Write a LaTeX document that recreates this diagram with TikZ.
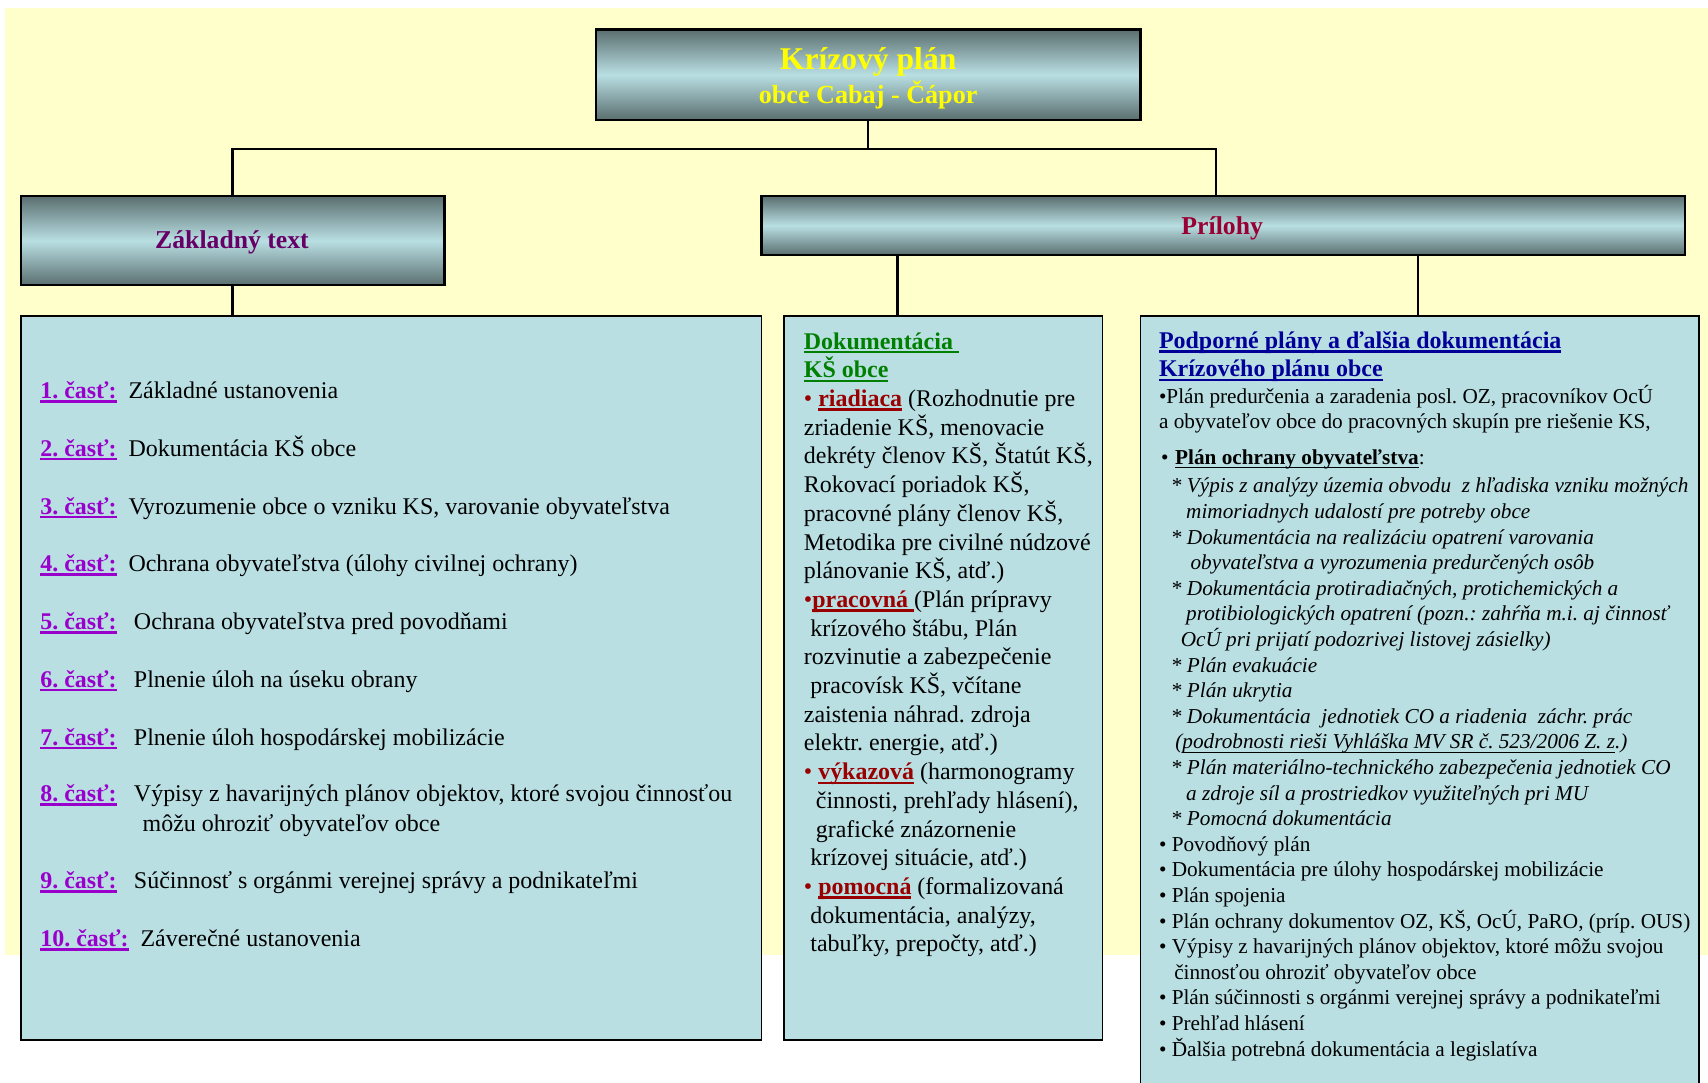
\documentclass[tikz,border=0pt]{standalone}
\usepackage{fontspec}
\setmainfont{Liberation Serif}
\frenchspacing
\newsavebox\ulbox
\newcommand\myul[2][2pt]{\sbox\ulbox{#2}\rlap{\rule[-0.17em]{\wd\ulbox}{#1}}\usebox\ulbox}
\definecolor{bgy}{HTML}{FFFFCC}
\definecolor{boxb}{HTML}{B9DFE3}
\definecolor{hdrd}{HTML}{5A6E6F}
\definecolor{hdrl}{HTML}{B9DFE3}
\definecolor{ttly}{HTML}{FFFF00}
\definecolor{zaklc}{HTML}{660066}
\definecolor{prilc}{HTML}{990033}
\definecolor{castc}{HTML}{9900CC}
\definecolor{grn}{HTML}{008000}
\definecolor{dred}{HTML}{990000}
\definecolor{hblue}{HTML}{000099}
\newcommand\castlbl[2]{\makebox[#1][l]{\textcolor{castc}{\bfseries\myul[2.4pt]{#2}}}}
\newcommand\redbul{\textcolor{dred}{•}}
\newcommand\redkw[1]{\textcolor{dred}{\bfseries\myul{#1}}}
\tikzset{
  hdr/.style={draw=black, line width=2pt, top color=hdrd, bottom color=hdrd, middle color=hdrl, inner sep=0pt, outer sep=0pt},
  cbox/.style={draw=black, line width=1.5pt, fill=boxb, inner sep=0pt, outer sep=0pt},
  conn/.style={draw=black, line width=2pt},
  ln/.style={anchor=base west, inner sep=0pt, outer sep=0pt},
  lt/.style={ln, font=\fontsize{22}{26}\selectfont},
  mt/.style={ln, font=\fontsize{22}{26}\selectfont},
  rt/.style={ln, font=\fontsize{19.5}{23}\selectfont},
  ri/.style={ln, font=\fontsize{19.5}{23}\selectfont\itshape},
}
\begin{document}
\begin{tikzpicture}[x=1pt,y=-1pt]
\useasboundingbox (0,0) rectangle (1568,994);
\fill[white] (0,0) rectangle (1568,994);
\fill[bgy] (4.6,7.3) rectangle (1568,877);

% boxes
\node[hdr, minimum width=500pt, minimum height=83pt] (top) at (797,68.5) {};
\node[hdr, minimum width=389pt, minimum height=82pt] (lh) at (213.5,221) {};
\node[hdr, minimum width=848pt, minimum height=54pt] (pr) at (1123,207) {};
\node[cbox, minimum width=680pt, minimum height=665pt] (lc) at (359,622.5) {};
\node[cbox, minimum width=292pt, minimum height=665pt] (mc) at (866,622.5) {};
\node[fill=boxb, inner sep=0pt, outer sep=0pt, minimum width=513pt, minimum height=704pt] (rb) at (1303.5,642) {};
\draw[black, line width=1.5pt] (rb.south west) -- (rb.north west) -- (rb.north east) -- (rb.south east);

% connectors
\coordinate (jn) at (797,137);
\coordinate (prx) at (1116,0);
\coordinate (mx) at (824,0);
\coordinate (rx) at (1302,0);
\draw[conn] (top.south) -- (jn);
\draw[conn] (jn) -| (lh.north);
\draw[conn] (jn) -| (pr.north -| prx);
\draw[conn] (lh.south) -- (lh.south |- lc.north);
\draw[conn] (pr.south -| mx) -- (mc.north -| mx);
\draw[conn] (pr.south -| rx) -- (rb.north -| rx);

% titles
\node[anchor=base, inner sep=0pt, font=\fontsize{29}{33}\selectfont\bfseries, text=ttly] (t1) at (797,64) {Krízový plán};
\node[anchor=base, inner sep=0pt, font=\fontsize{24}{28}\selectfont\bfseries, text=ttly] (t2) at (797,95) {obce Cabaj - Čápor};
\node[anchor=base, inner sep=0pt, font=\fontsize{23.6}{27}\selectfont\bfseries, text=zaklc] (t3) at (213,228) {Základný text};
\node[anchor=base, inner sep=0pt, font=\fontsize{23.6}{27}\selectfont\bfseries, text=prilc] (t4) at (1122,215) {Prílohy};

% left box
\node[lt] (c1) at (37,366) {\castlbl{81pt}{1. časť:}Základné ustanovenia};
\node[lt] (c2) at (37,419) {\castlbl{81pt}{2. časť:}Dokumentácia KŠ obce};
\node[lt] (c3) at (37,472) {\castlbl{81pt}{3. časť:}Vyrozumenie obce o vzniku KS, varovanie obyvateľstva};
\node[lt] (c4) at (37,525) {\castlbl{81pt}{4. časť:}Ochrana obyvateľstva (úlohy civilnej ochrany)};
\node[lt] (c5) at (37,578) {\castlbl{86pt}{5. časť:}Ochrana obyvateľstva pred povodňami};
\node[lt] (c6) at (37,631) {\castlbl{86pt}{6. časť:}Plnenie úloh na úseku obrany};
\node[lt] (c7) at (37,684) {\castlbl{86pt}{7. časť:}Plnenie úloh hospodárskej mobilizácie};
\node[lt] (c8) at (37,736) {\castlbl{86pt}{8. časť:}Výpisy z havarijných plánov objektov, ktoré svojou činnosťou};
\node[lt] (c8b) at (131,763) {môžu ohroziť obyvateľov obce};
\node[lt] (c9) at (37,816) {\castlbl{86pt}{9. časť:}Súčinnosť s orgánmi verejnej správy a podnikateľmi};
\node[lt] (c10) at (37,869) {\castlbl{92pt}{10. časť:}Záverečné ustanovenia};

% middle box
\node[mt] (m0) at (738,320.5) {\textcolor{grn}{\bfseries\myul{Dokumentácia\ }}};
\node[mt] (m1) at (738,346.85) {\textcolor{grn}{\bfseries\myul{KŠ obce}}};
\node[mt] (m2) at (738,373.2) {\redbul{} \redkw{riadiaca} (Rozhodnutie pre};
\node[mt] (m3) at (738,399.55) {zriadenie KŠ, menovacie};
\node[mt] (m4) at (738,425.9) {dekréty členov KŠ, Štatút KŠ,};
\node[mt] (m5) at (738,452.25) {Rokovací poriadok KŠ,};
\node[mt] (m6) at (738,478.6) {pracovné plány členov KŠ,};
\node[mt] (m7) at (738,504.95) {Metodika pre civilné núdzové};
\node[mt] (m8) at (738,531.3) {plánovanie KŠ, atď.)};
\node[mt] (m9) at (738,557.65) {\redbul\redkw{pracovná\ }(Plán prípravy};
\node[mt] (m10) at (744,584.0) {krízového štábu, Plán};
\node[mt] (m11) at (738,610.35) {rozvinutie a zabezpečenie};
\node[mt] (m12) at (744,636.7) {pracovísk KŠ, včítane};
\node[mt] (m13) at (738,663.05) {zaistenia náhrad. zdroja};
\node[mt] (m14) at (738,689.4) {elektr. energie, atď.)};
\node[mt] (m15) at (738,715.75) {\redbul{} \redkw{výkazová} (harmonogramy};
\node[mt] (m16) at (749,742.1) {činnosti, prehľady hlásení),};
\node[mt] (m17) at (749,768.45) {grafické znázornenie};
\node[mt] (m18) at (744,794.8) {krízovej situácie, atď.)};
\node[mt] (m19) at (738,821.15) {\redbul{} \redkw{pomocná} (formalizovaná};
\node[mt] (m20) at (744,847.5) {dokumentácia, analýzy,};
\node[mt] (m21) at (744,873.85) {tabuľky, prepočty, atď.)};

% right box
\node[mt] (h1) at (1064,320) {\textcolor{hblue}{\bfseries\myul{Podporné plány a ďalšia dokumentácia}}};
\node[mt] (h2) at (1064,346) {\textcolor{hblue}{\bfseries\myul{Krízového plánu obce}}};
\node[rt] (b1) at (1064,370.5) {•Plán predurčenia a zaradenia posl. OZ, pracovníkov OcÚ};
\node[rt] (b2) at (1064,393.5) {a obyvateľov obce do pracovných skupín pre riešenie KS,};
\node[rt] (b3) at (1066,426.5) {•\hspace{6pt}{\bfseries\myul[1.5pt]{Plán ochrany obyvateľstva}}:};
\node[ri] (i0) at (1075,452.5) {* Výpis z analýzy územia obvodu\ \ z hľadiska vzniku možných};
\node[ri] (i1) at (1089,476) {mimoriadnych udalostí pre potreby obce};
\node[ri] (i2) at (1075,499.5) {* Dokumentácia na realizáciu opatrení varovania};
\node[ri] (i3) at (1093,523) {obyvateľstva a vyrozumenia predurčených osôb};
\node[ri] (i4) at (1075,546.5) {* Dokumentácia protiradiačných, protichemických a};
\node[ri] (i5) at (1089,570) {protibiologických opatrení (pozn.: zahŕňa m.i. aj činnosť};
\node[ri] (i6) at (1084,593.5) {OcÚ pri prijatí podozrivej listovej zásielky)};
\node[ri] (i7) at (1075,617) {* Plán evakuácie};
\node[ri] (i8) at (1075,640.5) {* Plán ukrytia};
\node[ri] (i9) at (1075,664) {* Dokumentácia\ \ jednotiek CO a riadenia\ \ záchr. prác};
\node[ri] (i10) at (1079,687.5) {(\myul[0.9pt]{podrobnosti rieši Vyhláška MV SR č. 523/2006 Z. z}.)};
\node[ri] (i11) at (1075,711) {* Plán materiálno-technického zabezpečenia jednotiek CO};
\node[ri] (i12) at (1089,734.5) {a zdroje síl a prostriedkov využiteľných pri MU};
\node[ri] (i13) at (1075,758) {* Pomocná dokumentácia};
\node[rt] (p0) at (1064,781.5) {• Povodňový plán};
\node[rt] (p1) at (1064,805) {• Dokumentácia pre úlohy hospodárskej mobilizácie};
\node[rt] (p2) at (1064,828.5) {• Plán spojenia};
\node[rt] (p3) at (1064,852) {• Plán ochrany dokumentov OZ, KŠ, OcÚ, PaRO, (príp. OUS)};
\node[rt] (p4) at (1064,875.5) {• Výpisy z havarijných plánov objektov, ktoré môžu svojou};
\node[rt] (p5) at (1078,899) {činnosťou ohroziť obyvateľov obce};
\node[rt] (p6) at (1064,922.5) {• Plán súčinnosti s orgánmi verejnej správy a podnikateľmi};
\node[rt] (p7) at (1064,946) {• Prehľad hlásení};
\node[rt] (p8) at (1064,969.5) {• Ďalšia potrebná dokumentácia a legislatíva};
\end{tikzpicture}
\end{document}
